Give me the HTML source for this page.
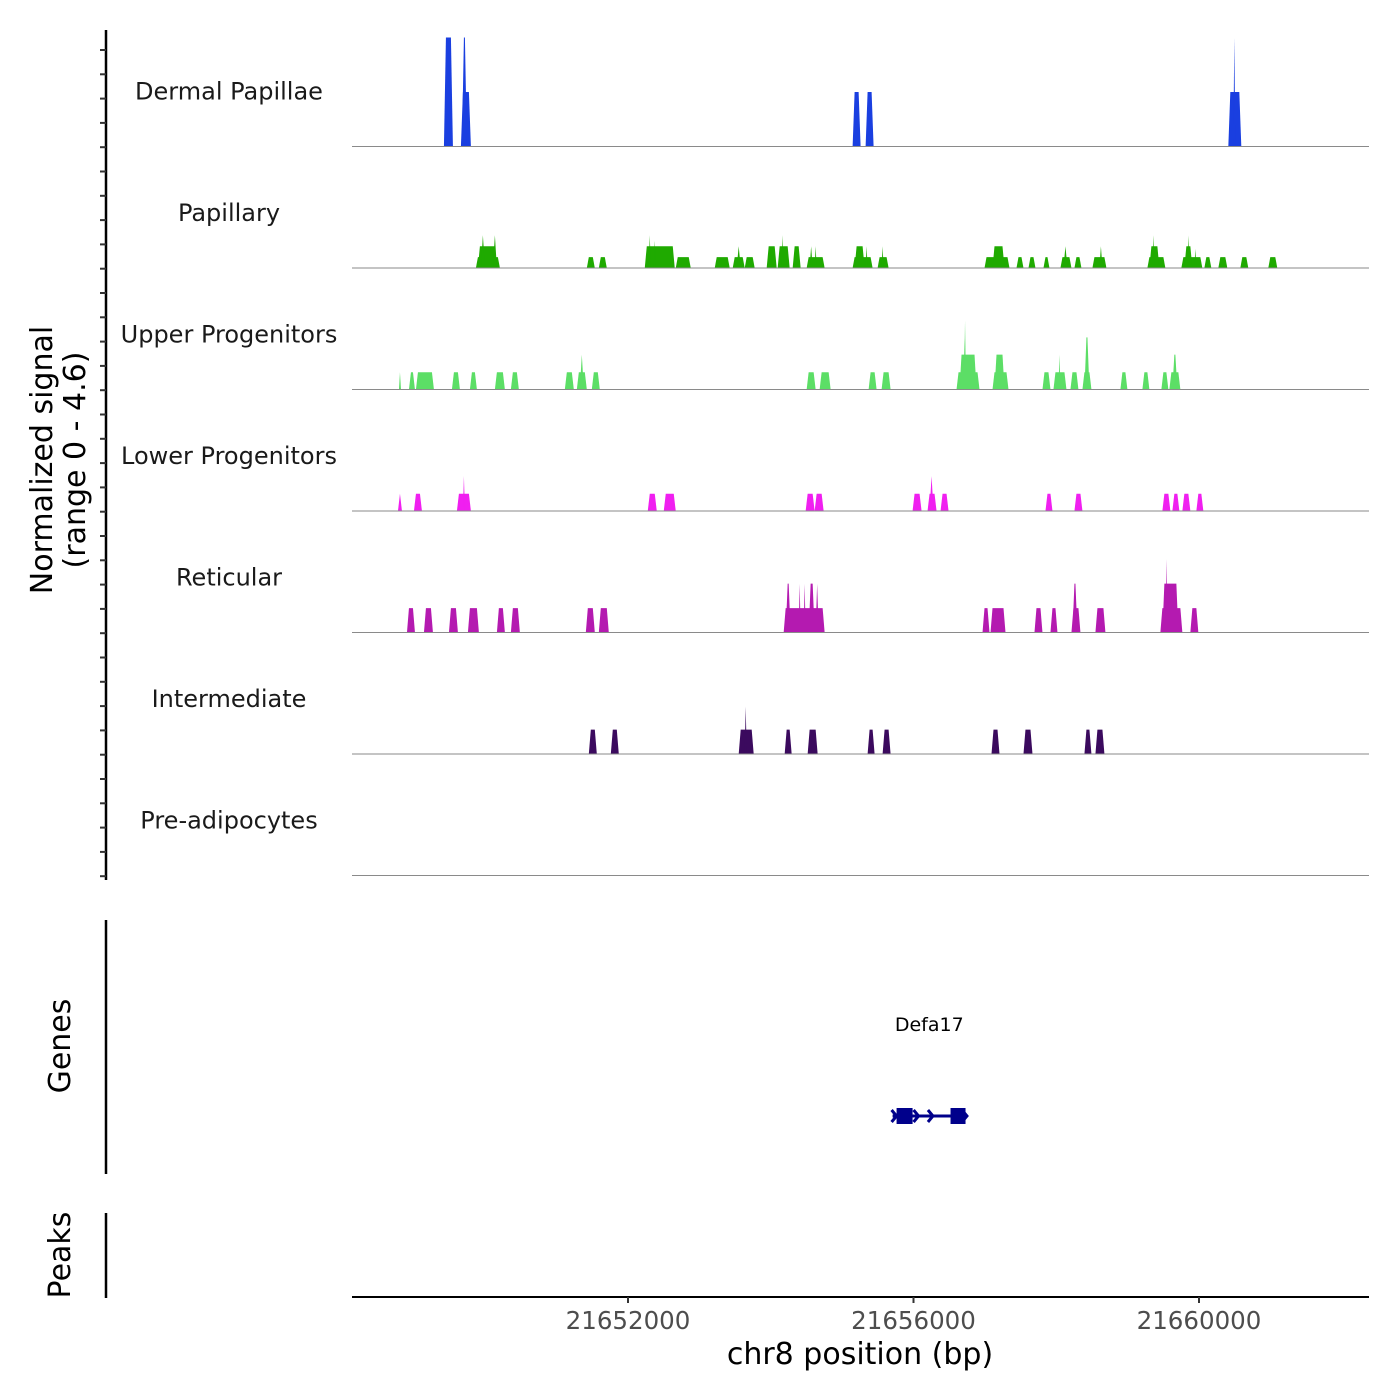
<!DOCTYPE html>
<html><head><meta charset="utf-8"><style>
body{margin:0;background:#fff;}
svg{display:block;font-family:"DejaVu Sans","Liberation Sans",sans-serif;}
</style></head><body>
<svg id="chart" width="1400" height="1400" viewBox="0 0 1400 1400" xmlns="http://www.w3.org/2000/svg">
<g id="tracks"></g>
<g id="yaxis"></g>
<text transform="translate(52,460) rotate(-90)" text-anchor="middle" font-size="30" fill="#000"><tspan x="0" dy="0">Normalized signal</tspan><tspan x="0" dy="33">(range 0 - 4.6)</tspan></text>
<line x1="106" y1="920" x2="106" y2="1174" stroke="#000" stroke-width="2.5"/>
<text transform="translate(70,1046) rotate(-90)" text-anchor="middle" font-size="30">Genes</text>
<g id="gene"></g>
<line x1="106" y1="1213" x2="106" y2="1298" stroke="#000" stroke-width="2.5"/>
<text transform="translate(70,1255) rotate(-90)" text-anchor="middle" font-size="30">Peaks</text>
<line x1="352" y1="1297" x2="1369" y2="1297" stroke="#000" stroke-width="2"/>
<g id="xaxis"></g>
<text x="860" y="1364" text-anchor="middle" font-size="30">chr8 position (bp)</text>
</svg>
<script>
const regionStart = 21648133;
const regionEnd = 21662368;
const xTicks = [21652000, 21656000, 21660000];
const trackNames = ["Dermal Papillae","Papillary","Upper Progenitors","Lower Progenitors","Reticular","Intermediate","Pre-adipocytes"];
const trackColors = ["#1a3fe0","#1faa00","#5cde66","#f01ff0","#b41ab0","#3b0a5e","#888888"];
const maxSignal = 4.6;
// peaks: [start offset bp, end offset bp, height]
const dermalPapillae = [[1288,1414,4.6],[1526,1666,2.3],[1540,1610,4.6],[7014,7126,2.3],[7196,7308,2.3],[12278,12460,2.3],[12348,12376,4.6]];
const papillary = [[1736,2072,0.46],[1764,2030,0.92],[1806,1862,1.38],[1974,2030,1.38],[3290,3402,0.46],[3458,3570,0.46],[4102,4522,0.92],[4158,4186,1.38],[4228,4256,1.15],[4536,4746,0.46],[5082,5292,0.46],[5334,5502,0.46],[5390,5446,0.92],[5502,5642,0.46],[5810,5950,0.92],[5964,6132,0.92],[6020,6048,1.38],[6174,6286,0.92],[6370,6622,0.46],[6412,6454,0.92],[6482,6510,0.92],[7014,7294,0.46],[7042,7182,0.92],[7196,7224,0.92],[7364,7518,0.46],[7420,7448,0.92],[8862,9212,0.46],[8974,9142,0.92],[9310,9408,0.46],[9478,9576,0.46],[9688,9772,0.46],[9926,10080,0.46],[9968,10024,0.92],[10122,10220,0.46],[10374,10570,0.46],[10472,10514,0.92],[11144,11396,0.46],[11172,11312,0.92],[11214,11242,1.38],[11620,11914,0.46],[11662,11774,0.92],[11704,11732,1.38],[11802,11830,0.8],[11942,12040,0.46],[12138,12264,0.46],[12446,12558,0.46],[12838,12964,0.46]];
const upperProgenitors = [[658,686,0.73],[798,882,0.73],[896,1148,0.73],[1400,1512,0.73],[1652,1750,0.73],[2002,2142,0.73],[2226,2338,0.73],[2982,3108,0.73],[3150,3290,0.73],[3192,3248,1.47],[3360,3472,0.73],[6370,6496,0.73],[6552,6706,0.73],[7238,7350,0.73],[7420,7546,0.73],[8470,8792,0.73],[8512,8750,1.47],[8568,8596,2.2],[8575,8603,2.9],[8974,9198,0.73],[9002,9142,1.47],[9674,9786,0.73],[9828,10010,0.73],[9898,9926,1.47],[10066,10178,0.73],[10234,10360,0.73],[10262,10332,2.2],[10766,10864,0.73],[11074,11172,0.73],[11340,11438,0.73],[11452,11606,0.73],[11494,11564,1.47]];
const lowerProgenitors = [[644,700,0.73],[868,980,0.73],[1470,1666,0.73],[1554,1582,1.47],[4144,4270,0.73],[4368,4536,0.73],[6356,6482,0.73],[6482,6608,0.73],[7854,7980,0.73],[8064,8190,0.73],[8092,8148,1.47],[8246,8358,0.73],[9716,9814,0.73],[10122,10234,0.73],[11354,11466,0.73],[11494,11592,0.73],[11634,11746,0.73],[11830,11928,0.73]];
const reticular = [[770,882,1.03],[1008,1134,1.03],[1358,1484,1.03],[1624,1778,1.03],[2030,2142,1.03],[2226,2352,1.03],[3276,3402,1.03],[3458,3598,1.03],[6048,6622,1.03],[6076,6146,2.06],[6258,6286,2.06],[6328,6356,2.06],[6398,6482,2.06],[6496,6538,2.06],[8834,8932,1.03],[8946,9156,1.03],[9562,9674,1.03],[9786,9884,1.03],[10080,10206,1.03],[10094,10164,2.06],[10416,10556,1.03],[11326,11634,1.03],[11354,11578,2.06],[11396,11424,3.1],[11746,11858,1.03]];
const intermediate = [[3318,3430,1.03],[3626,3738,1.03],[5418,5628,1.03],[5502,5530,2.0],[6062,6160,1.03],[6384,6524,1.03],[7224,7322,1.03],[7434,7546,1.03],[8960,9072,1.03],[9408,9534,1.03],[10262,10360,1.03],[10416,10542,1.03]];
const preAdipocytes = [];
const geneStart = 21655707; const geneEnd = 21656735;
const geneExons = [[21655763,21655987],[21656519,21656729]];

const trackData = [dermalPapillae,papillary,upperProgenitors,lowerProgenitors,reticular,intermediate,preAdipocytes];
const X0=352, X1=1368;
function xScale(bp){return X0+(bp-regionStart)/(regionEnd-regionStart)*(X1-X0);}
function xOff(o){return xScale(regionStart+o);}
function yScale(v,i){return baseline(i)-v/maxSignal*109;}
function baseline(i){return 146.5+i*121.5;}
const NS="http://www.w3.org/2000/svg";
function mk(tag,attrs,parent){const e=document.createElementNS(NS,tag);for(const k in attrs)e.setAttribute(k,attrs[k]);parent.appendChild(e);return e;}

const tracks=document.getElementById('tracks');
trackData.forEach((peaks,i)=>{
  const g=mk('g',{},tracks);
  
  
  peaks.forEach(p=>{
    const xa=xOff(p[0]), xb=xOff(p[1]), yb=baseline(i), yt=yScale(p[2],i);
    const s=Math.min(2,(xb-xa)/2);
    const pts=`${xa},${yb} ${xa+s},${yt} ${xb-s},${yt} ${xb},${yb}`;
    const poly=mk('polygon',{points:pts,fill:trackColors[i]},g);
    
    
  });
  const bl=mk('line',{x1:X0,x2:X1+1,y1:baseline(i),y2:baseline(i),stroke:'#8a8a8a','stroke-width':1},g);
  
  
  const t=mk('text',{x:229,y:baseline(i)-47,'text-anchor':'middle','font-size':24,fill:'#1a1a1a'},g);
  t.textContent=trackNames[i];
  
  
});
const ya=document.getElementById('yaxis');
const yl=mk('line',{x1:106,x2:106,y1:30,y2:880,stroke:'#000','stroke-width':2.5},ya);


for(let y=50;y<=880;y+=24.3){
  const tk=mk('line',{x1:100,x2:106,y1:y,y2:y,stroke:'#333','stroke-width':2},ya);
  
  
}
const xa=document.getElementById('xaxis');
xTicks.forEach(v=>{
  const x=xScale(v);
  const tk=mk('line',{x1:x,x2:x,y1:1297,y2:1303,stroke:'#333','stroke-width':2},xa);
  
  
  const t=mk('text',{x:x,y:1329,'text-anchor':'middle','font-size':24.5,fill:'#4d4d4d'},xa);
  t.textContent=String(v);
  
  
});
const gg=document.getElementById('gene');
const gs=xScale(geneStart), ge=xScale(geneEnd);
const gl=mk('line',{x1:gs,x2:ge,y1:1116,y2:1116,stroke:'#00008b','stroke-width':3},gg);


geneExons.forEach(e=>{
  const r=mk('rect',{x:xScale(e[0]),y:1108,width:xScale(e[1])-xScale(e[0]),height:16,fill:'#00008b'},gg);
  
  
});
[gs+4,xScale(geneExons[0][1])+6,gs+(ge-gs)*0.55,ge+1].forEach(x=>{
  const a=mk('polyline',{points:`${x-5},${1110} ${x},${1116} ${x-5},${1122}`,fill:'none',stroke:'#00008b','stroke-width':3},gg);
  
  
});
const gt=mk('text',{x:(gs+ge)/2,y:1031,'text-anchor':'middle','font-size':19,fill:'#000'},gg);
gt.textContent='Defa17';


</script>
</body></html>
